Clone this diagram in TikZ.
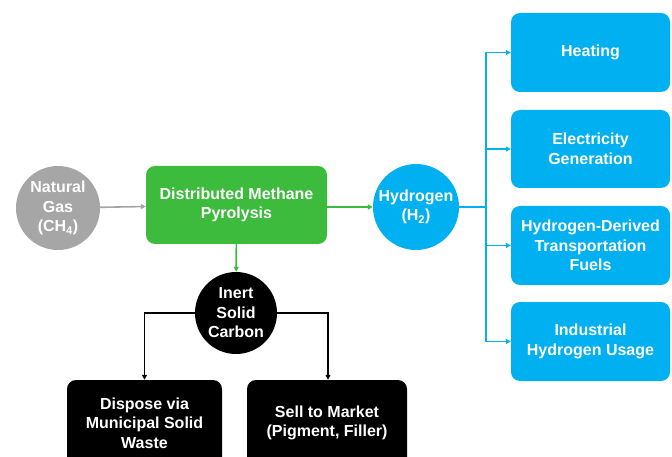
\documentclass[tikz,border=0pt]{standalone}
\usepackage{fontspec}
\setmainfont{Liberation Sans}
\usepackage{xcolor}
\usetikzlibrary{arrows.meta}
\definecolor{gasgray}{HTML}{A6A6A6}
\definecolor{pyrogreen}{HTML}{3DBB3D}
\definecolor{hydblue}{HTML}{00B0F0}
\tikzstyle{disc} = [circle, text=white, font=\bfseries\fontsize{16}{19.5}\selectfont, align=center, inner sep=0pt]
\tikzstyle{box} = [rectangle, rounded corners=9pt, text=white, font=\bfseries\fontsize{16}{19.5}\selectfont, align=center, inner sep=0pt]

\begin{document}
\begin{tikzpicture}[x=1pt, y=-1pt]
			\tikzset{tip/.style={-{Triangle[length=5pt,width=5pt]}, line width=1.6pt}}
\clip (0,0) rectangle (672,457);
\useasboundingbox (0,0) rectangle (672,457);
\node[disc, fill=gasgray, minimum size=84pt] (gas) at (58,208) {Natural\\Gas\\(CH\textsubscript{4})};
\node[box, fill=pyrogreen, minimum width=181pt, minimum height=78pt] (pyro) at (236.5,205) {Distributed Methane\\Pyrolysis};
\node[disc, fill=hydblue, minimum size=86pt] (hyd) at (416,207) {Hydrogen\\(H\textsubscript{2})};
\node[disc, fill=black, minimum size=82pt] (carbon) at (236,313) {Inert\\Solid\\Carbon};
\node[box, fill=hydblue, minimum width=159pt, minimum height=79pt] (heat) at (590.5,52.5) {Heating};
\node[box, fill=hydblue, minimum width=159pt, minimum height=78pt] (elec) at (590.5,149) {Electricity\\Generation};
\node[box, fill=hydblue, minimum width=159pt, minimum height=79pt] (fuel) at (590.5,245.5) {Hydrogen-Derived\\Transportation\\Fuels};
\node[box, fill=hydblue, minimum width=159pt, minimum height=79pt] (ind) at (590.5,341.5) {Industrial\\Hydrogen Usage};
\node[box, fill=black, minimum width=155pt, minimum height=86pt] (dispose) at (144.5,423) {Dispose via\\Municipal Solid\\Waste};
\node[box, fill=black, minimum width=160pt, minimum height=86pt] (sell) at (327,423) {Sell to Market\\(Pigment, Filler)};
\coordinate (fork) at (486,207);

\draw[tip, gasgray] (gas) -- (pyro);
\draw[tip, pyrogreen] (pyro.east |- hyd) -- (hyd);
\draw[tip, pyrogreen] (pyro) -- (carbon);
\draw[hydblue, line width=1.6pt] (hyd) -- (fork);
\foreach \to in {heat,elec,fuel,ind}
{
	\draw[tip, hydblue] (fork) |- (\to);
}
\draw[tip, black] (carbon) -| (dispose);
\draw[tip, black] (carbon) -| ([xshift=1pt]sell.north);

		\end{tikzpicture}
\end{document}
